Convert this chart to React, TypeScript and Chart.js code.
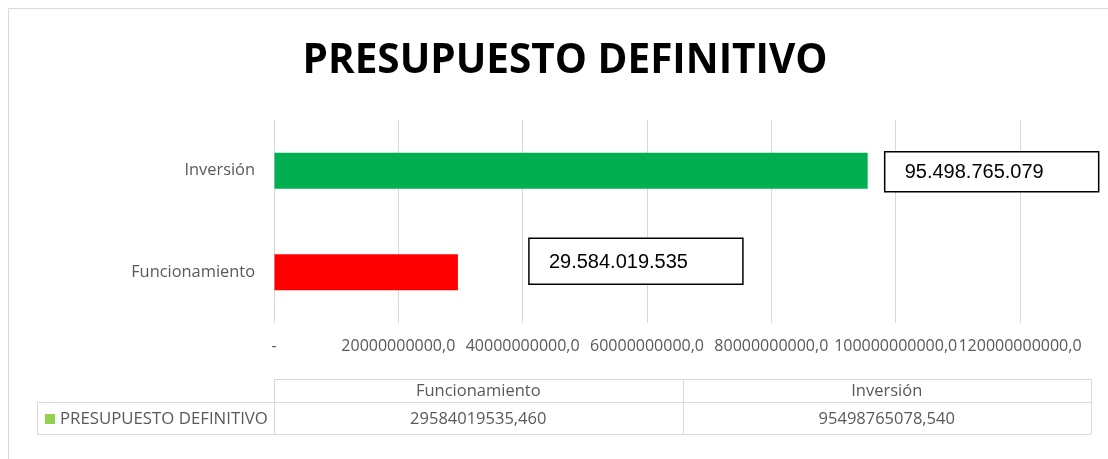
import React, { useEffect, useRef } from "react";
import { Chart, registerables } from "chart.js";

Chart.register(...registerables);

// ---- data ----
const chartTitle = "PRESUPUESTO DEFINITIVO";
const seriesName = "PRESUPUESTO DEFINITIVO";
const categories = ["Funcionamiento", "Inversión"];
const values = [29584019535.46, 95498765078.54];
const barColors = ["#FF0000", "#00B050"];
const xTickLabels = [
  "-",
  "20000000000,0",
  "40000000000,0",
  "60000000000,0",
  "80000000000,0",
  "100000000000,0",
  "120000000000,0",
];
const xMin = 0;
const xMax = 120000000000;
const xStep = 20000000000;

// ---- styling of the value boxes (offset from bar end / centre) ----
const labelBoxes = [
  { dx: 71, dy: -11, w: 214, h: 46 },
  { dx: 17, dy: 1, w: 214, h: 40 },
];

const FONT = "'Open Sans', sans-serif";
const GRID = "#d9d9d9";
const TEXT = "#595959";

function fmtLabel(v: number): string {
  return Math.round(v)
    .toString()
    .replace(/\B(?=(\d{3})+(?!\d))/g, ".");
}
function fmtTable(v: number): string {
  return v.toFixed(3).replace(".", ",");
}

const decorPlugin = {
  id: "decor",
  afterDraw(chart: any) {
    const ctx = chart.ctx as CanvasRenderingContext2D;
    const area = chart.chartArea;
    ctx.save();
    // outer frame
    ctx.strokeStyle = GRID;
    ctx.lineWidth = 1;
    ctx.beginPath();
    ctx.moveTo(0.5, chart.height);
    ctx.lineTo(0.5, 0.5);
    ctx.lineTo(chart.width, 0.5);
    ctx.stroke();

    // title
    ctx.fillStyle = "#000000";
    ctx.font = `bold 40.5px ${FONT}`;
    ctx.textAlign = "center";
    ctx.textBaseline = "middle";
    ctx.fillText(chartTitle, 557, 53);

    // value boxes
    const meta = chart.getDatasetMeta(0);
    meta.data.forEach((bar: any, i: number) => {
      const b = labelBoxes[i];
      const bx = bar.x + b.dx;
      const by = bar.y + b.dy - b.h / 2;
      ctx.fillStyle = "#ffffff";
      ctx.fillRect(bx, by, b.w, b.h);
      ctx.strokeStyle = "#000000";
      ctx.lineWidth = 1.5;
      ctx.strokeRect(bx, by, b.w, b.h);
      ctx.fillStyle = "#000000";
      ctx.font = `20px 'Liberation Sans', Arial, sans-serif`;
      ctx.textAlign = "left";
      ctx.textBaseline = "middle";
      ctx.fillText(fmtLabel(values[i]), bx + 20, by + b.h / 2 + 1);
    });

    // data table
    const tLeft = 29;
    const cLeft = area.left;
    const tRight = 1083;
    const r0 = 371;
    const r1 = 394;
    const r2 = 426;
    const colW = (tRight - cLeft) / categories.length;
    ctx.strokeStyle = GRID;
    ctx.lineWidth = 1;
    ctx.beginPath();
    ctx.moveTo(cLeft, r0 + 0.5);
    ctx.lineTo(tRight, r0 + 0.5);
    ctx.moveTo(tLeft, r1 + 0.5);
    ctx.lineTo(tRight, r1 + 0.5);
    ctx.moveTo(tLeft, r2 + 0.5);
    ctx.lineTo(tRight, r2 + 0.5);
    ctx.moveTo(tLeft + 0.5, r1);
    ctx.lineTo(tLeft + 0.5, r2);
    for (let i = 0; i <= categories.length; i++) {
      const x = Math.round(cLeft + colW * i) + 0.5;
      ctx.moveTo(x, r0);
      ctx.lineTo(x, r2);
    }
    ctx.stroke();

    ctx.font = `16.5px ${FONT}`;
    ctx.fillStyle = TEXT;
    ctx.textBaseline = "middle";
    ctx.textAlign = "center";
    categories.forEach((c, i) => {
      const cx = cLeft + colW * (i + 0.5);
      ctx.fillText(c, cx, (r0 + r1) / 2 + 1);
      ctx.fillText(fmtTable(values[i]), cx, (r1 + r2) / 2 + 1);
    });
    // legend key
    ctx.fillStyle = "#92D050";
    ctx.fillRect(37, 406, 10, 10);
    ctx.fillStyle = TEXT;
    ctx.textAlign = "left";
    ctx.font = `16.8px ${FONT}`;
    ctx.fillText(seriesName, 52, (r1 + r2) / 2 + 1);
    ctx.restore();
  },
};

export default function App() {
  const ref = useRef<HTMLCanvasElement | null>(null);
  useEffect(() => {
    if (!ref.current) return;
    const chart = new Chart(ref.current, {
      type: "bar",
      data: {
        labels: categories,
        datasets: [
          {
            label: seriesName,
            data: values,
            backgroundColor: barColors,
            borderWidth: 0,
            barPercentage: 0.355,
            categoryPercentage: 1,
          },
        ],
      },
      options: {
        indexAxis: "y",
        responsive: false,
        animation: false,
        devicePixelRatio: 1,
        layout: { padding: { top: 112, left: 0, right: 88, bottom: 76 } },
        plugins: {
          legend: { display: false },
          title: { display: false },
          tooltip: { enabled: false },
        },
        scales: {
          x: {
            type: "linear",
            min: xMin,
            max: xMax,
            afterFit: (s: any) => {
              s.height = 60;
            },
            afterBuildTicks: (s: any) => {
              s.ticks = xTickLabels.map((_, i) => ({ value: xMin + i * xStep }));
            },
            grid: { color: GRID, lineWidth: 1, drawTicks: false },
            border: { display: false },
            ticks: {
              autoSkip: false,
              maxRotation: 0,
              minRotation: 0,
              padding: 14,
              color: TEXT,
              font: { family: "'Open Sans', sans-serif", size: 16 },
              callback: (_v: any, i: number) => xTickLabels[i],
            },
          },
          y: {
            type: "category",
            reverse: true,
            afterFit: (s: any) => {
              s.width = 266;
            },
            grid: { display: false, drawTicks: false },
            border: { display: false },
            ticks: {
              padding: 19,
              color: TEXT,
              font: { family: "'Open Sans', sans-serif", size: 16.4 },
            },
          },
        },
      },
      plugins: [decorPlugin],
    });
    return () => chart.destroy();
  }, []);
  return (
    <div
      style={{
        position: "fixed",
        left: 8,
        top: 8,
        width: 1100,
        height: 451,
        overflow: "hidden",
        background: "#ffffff",
      }}
    >
      <canvas ref={ref} width={1100} height={451} style={{ display: "block", width: 1100, height: 451 }} />
    </div>
  );
}
